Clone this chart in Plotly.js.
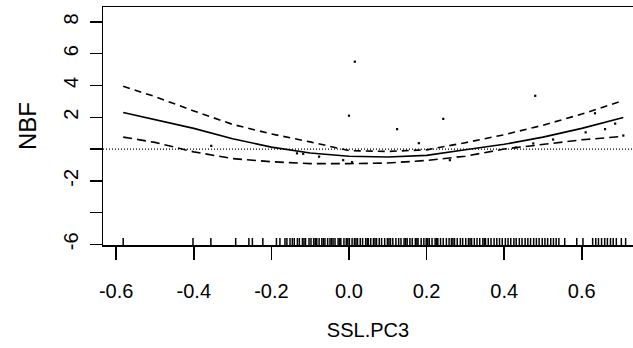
<!DOCTYPE html>
<html><head><meta charset="utf-8">
<script src="https://cdn.plot.ly/plotly-3.0.1.min.js"></script>
<style>html,body{margin:0;padding:0;background:#fff}#chart{width:633px;height:348px}</style>
</head><body><div id="chart"></div>
<script>
// Smooth term estimate and its confidence band
const gridX = [-0.582,-0.5,-0.4,-0.3,-0.2,-0.1,0.0,0.1,0.2,0.3,0.4,0.5,0.6,0.707];
const fitY   = [2.3,1.85,1.3,0.65,0.12,-0.25,-0.45,-0.5,-0.4,-0.05,0.3,0.75,1.3,1.98];
const upperY = [3.95,3.3,2.4,1.55,0.95,0.45,-0.1,-0.15,-0.05,0.4,0.9,1.5,2.2,3.05];
const lowerY = [0.75,0.42,-0.18,-0.6,-0.8,-0.92,-0.92,-0.88,-0.72,-0.45,0.0,0.3,0.58,0.8];
// Partial residual points
const resX = [0.015,0.0,0.124,0.243,0.48,-0.355,-0.134,-0.118,-0.077,-0.015,0.008,0.18,0.26,0.43,0.475,0.526,0.61,0.634,0.66,0.686,0.707];
const resY = [5.5,2.1,1.25,1.9,3.35,0.2,-0.27,-0.3,-0.48,-0.7,-0.82,0.37,-0.7,0.1,0.35,0.6,1.05,2.25,1.25,1.6,0.85];
// Rug (observed covariate values)
const rugX = [-0.582,-0.402,-0.356,-0.292,-0.258,-0.249,-0.222,-0.187,-0.178,-0.165,-0.160,-0.152,-0.146,-0.141,-0.133,-0.128,-0.120,-0.116,-0.112,-0.103,-0.098,-0.091,-0.087,-0.083,-0.077,-0.070,-0.066,-0.062,-0.055,-0.049,-0.045,-0.041,-0.036,-0.028,-0.024,-0.021,-0.013,-0.007,-0.003,0.001,0.008,0.014,0.018,0.022,0.029,0.035,0.043,0.047,0.050,0.056,0.063,0.067,0.071,0.078,0.084,0.092,0.099,0.103,0.107,0.113,0.121,0.128,0.134,0.142,0.146,0.150,0.157,0.163,0.171,0.175,0.178,0.186,0.193,0.199,0.203,0.207,0.214,0.222,0.226,0.229,0.236,0.243,0.251,0.258,0.264,0.268,0.272,0.279,0.287,0.293,0.301,0.308,0.312,0.316,0.323,0.330,0.337,0.345,0.349,0.352,0.359,0.366,0.374,0.381,0.388,0.395,0.403,0.410,0.417,0.425,0.431,0.439,0.446,0.454,0.461,0.468,0.476,0.483,0.490,0.498,0.505,0.512,0.520,0.527,0.534,0.541,0.556,0.587,0.603,0.628,0.636,0.643,0.651,0.659,0.666,0.674,0.681,0.689,0.702,0.713];
const xTicks = [-0.6,-0.4,-0.2,0.0,0.2,0.4,0.6];
const xTickText = ['-0.6','-0.4','-0.2','0.0','0.2','0.4','0.6'];
const yTicks = [-6,-4,-2,0,2,4,6,8];
const yTickText = ['-6','','-2','','2','4','6','8'];

const xRange = [-0.634, 0.732];
const yRange = [-6.04, 8.94];
const FONT = '"Liberation Sans", Arial, sans-serif';

const traces = [
  {x: gridX, y: upperY, mode:'lines', line:{color:'#000', width:1.6, dash:'7px,5px'}, hoverinfo:'skip'},
  {x: gridX, y: lowerY, mode:'lines', line:{color:'#000', width:1.6, dash:'9px,5px'}, hoverinfo:'skip'},
  {x: gridX, y: fitY, mode:'lines', line:{color:'#000', width:1.6}, hoverinfo:'skip'},
  {x: resX, y: resY, mode:'markers', marker:{symbol:'square', size:2.2, color:'#000'}, hoverinfo:'skip'},
  {x: rugX, y: rugX.map(()=>yRange[0]), mode:'markers', cliponaxis:true,
   marker:{symbol:'line-ns-open', size:10, color:'#000', line:{color:'#000', width:1.5}}, hoverinfo:'skip'}
];

const layout = {
  width:633, height:348, showlegend:false,
  paper_bgcolor:'#fff', plot_bgcolor:'#fff',
  margin:{l:103, r:0, t:7, b:103},
  font:{family:FONT, color:'#000', size:20},
  xaxis:{range:xRange, showgrid:false, zeroline:false, showline:true, mirror:true,
    linecolor:'#000', linewidth:1.5, ticks:'outside', ticklen:13, tickwidth:1.5, tickcolor:'#000',
    tickvals:xTicks, ticktext:xTickText, ticklabelstandoff:14, tickfont:{size:20},
    title:{text:'SSL.PC3', font:{size:20}, standoff:22}},
  yaxis:{range:yRange, showgrid:false, zeroline:false, showline:true, mirror:true,
    linecolor:'#000', linewidth:1.5, ticks:'outside', ticklen:12, tickwidth:1.5, tickcolor:'#000',
    tickvals:yTicks, ticktext:yTickText, tickangle:-90, ticklabelstandoff:4, tickfont:{size:20},
    title:{text:'NBF', font:{size:24}, standoff:16}},
  shapes:[{type:'line', xref:'paper', x0:0, x1:1, yref:'y', y0:0, y1:0,
    line:{color:'#000', width:1.2, dash:'1px,2px'}}]
};
Plotly.newPlot('chart', traces, layout, {staticPlot:true, displayModeBar:false});
</script></body></html>
